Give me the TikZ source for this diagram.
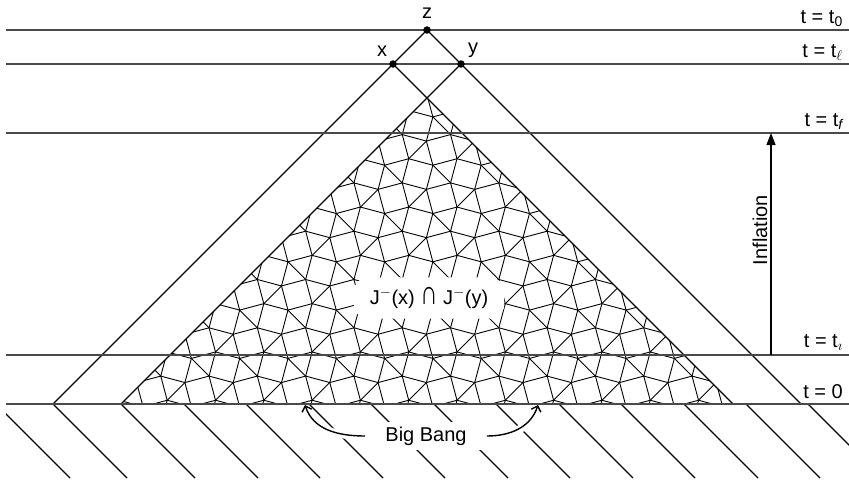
\documentclass[tikz,border=0pt]{standalone}
\usepackage{fontspec}
\setmainfont{Liberation Sans}
\usetikzlibrary{arrows.meta,calc}
\definecolor{linec}{HTML}{4A4A4A}
\newcommand{\snubA}{25}
\newcommand{\snubR}{17.678}
\newcommand{\snubL}{48.30}
\newcommand{\bigcapt}{\scalebox{1.2}[1.7]{∩}}
\tikzset{
  tline/.style ={draw=linec,line width=1.5pt},
  cone/.style  ={draw=black,line width=1.2pt},
  mesh/.style  ={draw=black,line width=.9pt,line join=round},
  hatch/.style ={draw=black,line width=1.1pt},
  evt/.style   ={circle,fill=black,inner sep=0pt,minimum size=7.5pt},
  lbl/.style   ={font=\fontsize{20}{24}\selectfont,inner sep=0pt},
  tlbl/.style  ={lbl,anchor=base east},
  ar/.style    ={-{Triangle[length=12pt,width=9pt]},draw=black,line width=1.2pt},
  arB/.style   ={-{Straight Barb[length=5pt,width=10pt]},draw=black,line width=1.4pt,
                 preaction={draw=white,line width=8pt,arrows=-,shorten >=8pt}},
}
\begin{document}
\begin{tikzpicture}[x=1pt,y=-1pt]
\useasboundingbox (0,0) rectangle (849,480);

% events and feet of the cones
\coordinate (pz) at (427,30);
\coordinate (px) at (393,64);
\coordinate (py) at (461,64);
\coordinate (zl) at (53,404);
\coordinate (zr) at (801,404);
\coordinate (xr) at (733,404);
\coordinate (yl) at (121,404);
\coordinate (apex) at (427,98);

% ---------- mesh inside J^-(x) cap J^-(y) ----------
\begin{scope}
  \clip (yl) -- (apex) -- (xr) -- cycle;
  \foreach \i in {1,...,16}{
    \foreach \j in {1,...,9}{
      \begin{scope}[shift={(\i*\snubL+7,\j*\snubL+5)}]
        \draw[mesh] (30:\snubR) -- (120:\snubR) -- (210:\snubR) -- (300:\snubR) -- cycle;
        \draw[mesh] (30:\snubR) -- ++(-45:\snubA);
        \draw[mesh] (120:\snubR) -- ++(45:\snubA);
      \end{scope}
      \begin{scope}[shift={(\i*\snubL+0.5*\snubL+7,\j*\snubL+0.5*\snubL+5)}]
        \draw[mesh] (60:\snubR) -- (150:\snubR) -- (240:\snubR) -- (330:\snubR) -- cycle;
      \end{scope}
    }
  }
\end{scope}
\node[lbl,fill=white,rounded corners=14pt,inner xsep=16pt,inner ysep=10pt] (jlab)
  at (429,298) {J$^{-}$(x) \bigcapt{} J$^{-}$(y)};

% ---------- past light cones ----------
\draw[cone] (zl) -- (pz) -- (zr);
\draw[cone] (yl) -- (py);
\draw[cone] (px) -- (xr);

% ---------- hatching below t = 0 ----------
\begin{scope}
  \clip (6,404) rectangle (849,480);
  \foreach \h in {-4,53,121,184,246,309,371,434,496,559,621,684,746,808}
    \draw[hatch] (\h,404) -- ++(74,74);
\end{scope}
\node[lbl,fill=white,inner xsep=20pt,inner ysep=5pt] (bb) at (426,436) {Big Bang};
\coordinate (bbl) at (305,405);
\coordinate (bbr) at (538,405);
\draw[arB] (bb.west) to[out=180,in=-72] (bbl);
\draw[arB] (bb.east) to[out=0,in=-108] (bbr);

% ---------- time slices ----------
\draw[tline] (6,30) -- (849,30);
\draw[tline] (6,64) -- (849,64);
\draw[tline] (6,133) -- (849,133);
\draw[tline] (6,355) -- (849,355);
\draw[tline] (6,404) -- (849,404);
\node[tlbl] (t0) at (843,23) {t = t\textsubscript{0}};
\node[tlbl] (tl) at (843,57) {t = t$_{\ell}$};
\node[tlbl] (tf) at (843,126) {t = t$_{\mathit{f}}$};
\node[tlbl] (ti) at (843,347) {t = t$_{\imath}$};
\node[tlbl] (tz) at (843,398) {t = 0};

% ---------- inflation ----------
\coordinate (infb) at (771,355);
\coordinate (inft) at (771,133);
\draw[ar] (infb) -- (inft);
\node[lbl,rotate=90] (infl) at (760,230) {Inflation};

% ---------- events ----------
\node[evt] (z) at (pz) {};
\node[evt] (x) at (px) {};
\node[evt] (y) at (py) {};
\node[lbl] (zt) at (427,13) {z};
\node[lbl] (xt) at (382,51) {x};
\node[lbl] (yt) at (473,50) {y};
\end{tikzpicture}
\end{document}
